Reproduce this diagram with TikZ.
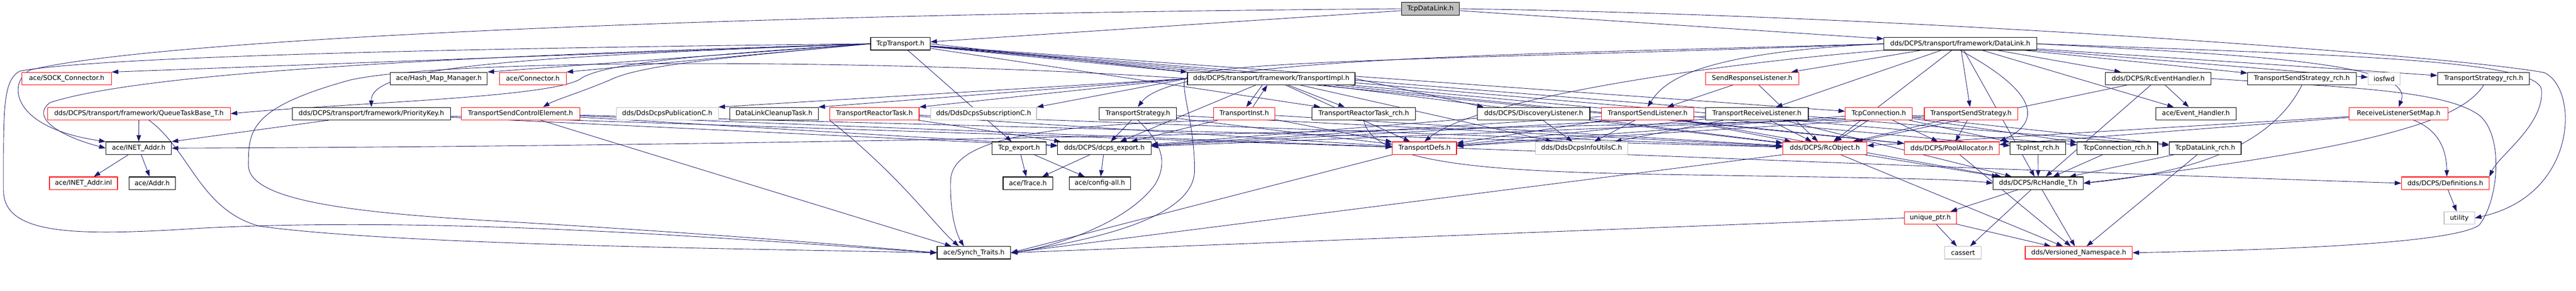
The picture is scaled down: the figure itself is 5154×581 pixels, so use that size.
\documentclass[tikz,border=0pt]{standalone}
\usepackage{fontspec}
\setmainfont{DejaVu Sans}
\usetikzlibrary{arrows.meta,backgrounds}
\definecolor{edgeblue}{HTML}{191970}
\definecolor{extgray}{HTML}{BFBFBF}
\definecolor{rootgray}{HTML}{BFBFBF}
\tikzset{
  hdr/.style={draw=black,fill=white,line width=1.2pt,inner sep=0pt,minimum height=25pt,font=\fontsize{13.2}{15}\selectfont},
  redhdr/.style={hdr,draw=red},
  syshdr/.style={hdr,draw=extgray},
  roothdr/.style={hdr,fill=rootgray},
  inc/.style={edgeblue,line width=0.9pt,-{Triangle[length=13pt,width=9pt]}}
}
\begin{document}
\begin{tikzpicture}[x=1pt,y=-1pt]
\useasboundingbox (0,0) rectangle (5154,581);
\node[roothdr,minimum width=116pt] (tdl) at (2862,17.5) {TcpDataLink.h};
\node[hdr,minimum width=119pt] (tt) at (1801.5,87.5) {TcpTransport.h};
\node[hdr,minimum width=306pt] (dl) at (3922,87.5) {dds/DCPS/transport/framework/DataLink.h};
\node[redhdr,minimum width=179pt] (sock) at (133.5,157) {ace/SOCK\_Connector.h};
\node[hdr,minimum width=194pt] (hmm) at (878,157) {ace/Hash\_Map\_Manager.h};
\node[redhdr,minimum width=134pt] (conn) at (1066,157) {ace/Connector.h};
\node[hdr,minimum width=335pt] (ti) at (2543.5,157) {dds/DCPS/transport/framework/TransportImpl.h};
\node[redhdr,minimum width=187pt] (srl) at (3505.5,157) {SendResponseListener.h};
\node[hdr,minimum width=212pt] (reh) at (4318,157) {dds/DCPS/RcEventHandler.h};
\node[hdr,minimum width=217pt] (tssrch) at (4605.5,157) {TransportSendStrategy\_rch.h};
\node[syshdr,minimum width=64pt] (iosfwd) at (4770,157) {iosfwd};
\node[hdr,minimum width=184pt] (tsrch) at (4969,157) {TransportStrategy\_rch.h};
\node[redhdr,minimum width=366pt] (qtb) at (278,227) {dds/DCPS/transport/framework/QueueTaskBase\_T.h};
\node[hdr,minimum width=316pt] (pk) at (743,227) {dds/DCPS/transport/framework/PriorityKey.h};
\node[redhdr,minimum width=237pt] (tsce) at (1041.5,227) {TransportSendControlElement.h};
\node[syshdr,minimum width=204pt] (pubc) at (1335,227) {dds/DdsDcpsPublicationC.h};
\node[hdr,minimum width=177pt] (dlct) at (1548.5,227) {DataLinkCleanupTask.h};
\node[redhdr,minimum width=179pt] (trt) at (1749.5,227) {TransportReactorTask.h};
\node[syshdr,minimum width=212pt] (subc) at (1968,227) {dds/DdsDcpsSubscriptionC.h};
\node[hdr,minimum width=155pt] (tstr) at (2276.5,227) {TransportStrategy.h};
\node[redhdr,minimum width=123pt] (tinst) at (2489.5,227) {TransportInst.h};
\node[hdr,minimum width=207pt] (trtrch) at (2728.5,227) {TransportReactorTask\_rch.h};
\node[hdr,minimum width=225pt] (dlis) at (3068.5,227) {dds/DCPS/DiscoveryListener.h};
\node[redhdr,minimum width=185pt] (tsl) at (3296.5,227) {TransportSendListener.h};
\node[hdr,minimum width=206pt] (trl) at (3515,227) {TransportReceiveListener.h};
\node[redhdr,minimum width=134pt] (tc) at (3759,227) {TcpConnection.h};
\node[redhdr,minimum width=187pt] (tss) at (3943.5,227) {TransportSendStrategy.h};
\node[hdr,minimum width=161pt] (evh) at (4393.5,227) {ace/Event\_Handler.h};
\node[redhdr,minimum width=198pt] (rlsm) at (4799,227) {ReceiveListenerSetMap.h};
\node[hdr,minimum width=131pt] (inet) at (277.5,296) {ace/INET\_Addr.h};
\node[hdr,minimum width=108pt] (tcpexp) at (2039,296) {Tcp\_export.h};
\node[hdr,minimum width=187pt] (dcpsexp) at (2209.5,296) {dds/DCPS/dcps\_export.h};
\node[redhdr,minimum width=128pt] (tdefs) at (2850,296) {TransportDefs.h};
\node[syshdr,minimum width=185pt] (infoc) at (3164.5,296) {dds/DdsDcpsInfoUtilsC.h};
\node[redhdr,minimum width=168pt] (rcobj) at (3651,296) {dds/DCPS/RcObject.h};
\node[redhdr,minimum width=190pt] (pool) at (3905,296) {dds/DCPS/PoolAllocator.h};
\node[hdr,minimum width=111pt] (tirch) at (4077.5,296) {TcpInst\_rch.h};
\node[hdr,minimum width=161pt] (tcrch) at (4236.5,296) {TcpConnection\_rch.h};
\node[hdr,minimum width=144pt] (tdlrch) at (4412,296) {TcpDataLink\_rch.h};
\node[redhdr,minimum width=136pt] (inl) at (167,366) {ace/INET\_Addr.inl};
\node[hdr,minimum width=93pt] (addr) at (304.5,366) {ace/Addr.h};
\node[hdr,minimum width=99pt] (trace) at (2056.5,366) {ace/Trace.h};
\node[hdr,minimum width=123pt] (cfg) at (2200.5,366) {ace/config-all.h};
\node[hdr,minimum width=180pt] (rch) at (4078,366) {dds/DCPS/RcHandle\_T.h};
\node[redhdr,minimum width=175pt] (defs) at (4892.5,366) {dds/DCPS/Definitions.h};
\node[redhdr,minimum width=104pt] (uptr) at (3862,435.5) {unique\_ptr.h};
\node[syshdr,minimum width=61pt] (util) at (4920.5,435.5) {utility};
\node[hdr,minimum width=147pt] (synch) at (1948.5,505) {ace/Synch\_Traits.h};
\node[syshdr,minimum width=73pt] (cassert) at (3927.5,505) {cassert};
\node[redhdr,minimum width=214pt] (vns) at (4159,505) {dds/Versioned\_Namespace.h};
\begin{pgfonlayer}{background}
\draw[inc] (tdl) -- (tt);
\draw[inc] (tdl) -- (dl);
\draw[inc] (tdl.west) .. controls (1400,28) and (300,80) .. (60,140) .. controls (15,165) and (20,255) .. (inet.north west);
\draw[inc] (tdl.east) .. controls (3800,30) and (4900,110) .. (5090,145) .. controls (5160,175) and (5160,390) .. (util.east);
\foreach \t in {sock,hmm,conn} \draw[inc] (tt.west) -- (\t.north east);
\foreach \t in {trtrch,tc,tcpexp,tirch,tcrch,tdlrch,pool} \draw[inc] (tt) -- (\t);
\draw[inc] (tt.east) -- (ti.north west);
\draw[inc] (tt.west) .. controls (1000,110) and (300,140) .. (100,205) .. controls (60,235) and (120,272) .. (inet.west);
\draw[inc] (tt.west) .. controls (1000,95) and (200,112) .. (40,142) .. controls (5,160) and (7,220) .. (7,380) .. controls (7,470) and (150,472) .. (400,456) .. controls (900,430) and (1500,480) .. (synch.west);
\draw[inc] (tt.west) .. controls (1000,115) and (742,135) .. (pk.north);
\draw[inc] (tt.west) .. controls (1400,110) and (1220,125) .. (1165,155) .. controls (1120,195) and (700,205) .. (qtb.east);
\draw[inc] (tt.west) .. controls (1450,115) and (1280,130) .. (1220,160) .. controls (1160,185) and (1110,200) .. ([xshift=45pt]tsce.north);
\foreach \t in {srl,trl,tss,reh,evh,tssrch,iosfwd,tsrch,rcobj,rch} \draw[inc] (dl) -- (\t);
\draw[inc] (dl.west) .. controls (3400,105) and (3330,160) .. (tsl.north);
\draw[inc] (dl.west) .. controls (3000,110) and (2350,115) .. (tstr.north);
\draw[inc] (dl.south west) .. controls (3400,130) and (2950,200) .. (tdefs.north);
\draw[inc] (dl.south) .. controls (4070,180) and (4090,240) .. (pool.north east);
\draw[inc] (dl.east) .. controls (4500,110) and (4835,125) .. (rlsm.north);
\draw[inc] (dl.east) .. controls (4700,110) and (5080,120) .. (5085,180) .. controls (5090,250) and (5000,310) .. (defs.north east);
\draw[inc] (dl.west) .. controls (3000,118) and (2380,118) .. (2370,160) .. controls (2365,190) and (2390,250) .. (2390,340) .. controls (2390,420) and (2250,470) .. (synch.east);
\foreach \t in {pubc,dlct,trt,subc} \draw[inc] (ti.west) -- (\t.north east);
\foreach \t in {tdefs,dcpsexp,infoc,rcobj,pool} \draw[inc] (ti) -- (\t);
\draw[inc] ([xshift=-18pt]ti.south) -- ([xshift=4pt]tinst.north);
\draw[inc] ([xshift=34pt]ti.south) -- ([xshift=-38pt]trtrch.north);
\draw[inc] (ti.east) -- ([xshift=-100pt]dlis.north);
\draw[inc] (ti.west) .. controls (1800,118) and (900,115) .. (700,160) .. controls (500,215) and (497,260) .. (497,330) .. controls (497,400) and (700,425) .. (1000,442) .. controls (1400,465) and (1700,490) .. (synch.west);
\draw[inc] ([xshift=17pt]tinst.north) -- ([xshift=-8pt]ti.south);
\foreach \t in {dcpsexp,tdefs,rcobj} \draw[inc] (tinst) -- (\t);
\draw[inc] (tinst.south west) .. controls (2150,250) and (1905,265) .. (1902,360) .. controls (1900,430) and (1915,470) .. ([xshift=-20pt]synch.north);
\foreach \t in {dcpsexp,tdefs,rcobj} \draw[inc] (tstr) -- (\t);
\draw[inc] (tstr.south) .. controls (2330,290) and (2335,330) .. (2310,370) .. controls (2250,450) and (2100,495) .. (synch.east);
\foreach \t in {dcpsexp,tdefs,rcobj} \draw[inc] (trt) -- (\t);
\draw[inc] (trt.south west) .. controls (1800,350) and (1870,450) .. ([xshift=-30pt]synch.north);
\foreach \t in {dcpsexp,tdefs,rcobj} \draw[inc] (tsce) -- (\t);
\draw[inc] ([xshift=40pt]tsce.south) -- ([xshift=-45pt]synch.north);
\draw[inc] ([xshift=-85pt]pk.south) -- (inet.north east);
\foreach \t in {dcpsexp,tdefs} \draw[inc] (pk) -- (\t);
\draw[inc] (qtb) -- (inet);
\draw[inc] ([xshift=20pt]qtb.south) .. controls (380,300) and (400,420) .. (520,452) .. controls (800,490) and (1500,497) .. (synch.west);
\foreach \t in {inl,addr} \draw[inc] (inet) -- (\t);
\foreach \s in {tcpexp,dcpsexp} \foreach \t in {trace,cfg} \draw[inc] (\s) -- (\t);
\foreach \t in {tsl,rcobj} \draw[inc] (srl) -- (\t);
\foreach \t in {evh,rcobj,rch} \draw[inc] (reh) -- (\t);
\draw[inc] (reh.east) .. controls (4700,175) and (4890,180) .. (4960,230) .. controls (5010,270) and (5000,400) .. (4960,450) .. controls (4900,490) and (4500,500) .. (vns.east);
\foreach \t in {infoc,rcobj,dcpsexp} \draw[inc] (dlis) -- (\t);
\foreach \t in {infoc,tdefs,dcpsexp,rcobj,rch} \draw[inc] (tsl) -- (\t);
\foreach \t in {infoc,tdefs,dcpsexp,rcobj,rch} \draw[inc] (trl) -- (\t);
\foreach \t in {rcobj,pool,tirch,tcrch,tdlrch,tdefs} \draw[inc] (tc) -- (\t);
\draw[inc] (tc.south west) .. controls (2600,262) and (1600,292) .. (inet.east);
\foreach \t in {pool,rcobj,tdefs,dcpsexp} \draw[inc] (tss) -- (\t);
\foreach \t in {rcobj,pool} \draw[inc] (rlsm) -- (\t);
\draw[inc] ([xshift=30pt]rlsm.south) .. controls (4880,260) and (4895,300) .. ([xshift=3pt]defs.north);
\draw[inc] (tdefs.south west) -- (synch.east);
\draw[inc] (tdefs.east) .. controls (3500,318) and (4300,350) .. (defs.west);
\draw[inc] (rcobj.south west) -- (synch.east);
\foreach \t in {rch,vns} \draw[inc] (rcobj) -- (\t);
\draw[inc] (pool) -- (vns);
\foreach \s in {tirch,tcrch,tdlrch} \draw[inc] (\s) -- (rch);
\draw[inc] (tssrch.south) .. controls (4560,260) and (4450,340) .. (rch.east);
\draw[inc] (tsrch.south) .. controls (4920,250) and (4700,300) .. (rch.east);
\draw[inc] (trtrch.south) .. controls (2745,330) and (3000,342) .. (3300,348) .. controls (3700,355) and (3900,356) .. (rch.west);
\draw[inc] (tdlrch) -- (vns);
\foreach \t in {uptr,cassert,vns} \draw[inc] (rch) -- (\t);
\foreach \t in {cassert,vns} \draw[inc] (uptr) -- (\t);
\draw[inc] (uptr.west) -- (synch.east);
\draw[inc] (defs) -- (util);
\end{pgfonlayer}
\end{tikzpicture}
\end{document}
